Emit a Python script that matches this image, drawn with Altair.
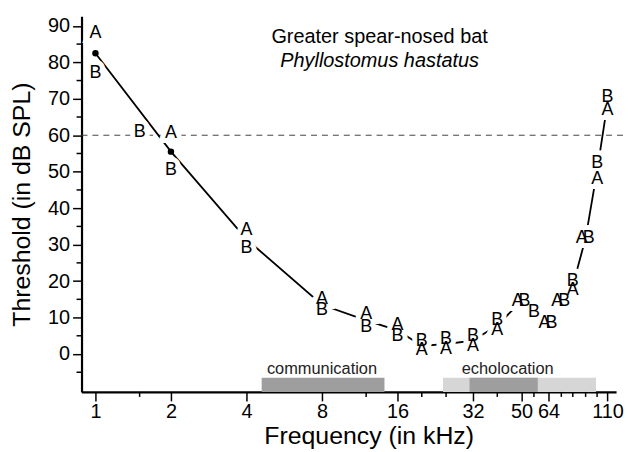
import altair as alt
import pandas as pd

# ---------------- data ----------------
freq = [1, 1.5, 2, 4, 8, 12, 16, 20, 25, 32, 40, 50, 56, 64, 72, 80, 90, 100, 110]
thr_a = [88, None, 60.5, 34, 15, 11, 8, 1, 1.5, 2.3, 6.5, 14.5, None, 8.6, 14.5, 17.5, 31.8, 48, 67]
thr_b = [77, 61, 50.5, 29, 12, 7.5, 5, 3.5, 4, 5, 9.3, 14.5, 11.5, 8.6, 14.5, 20, 31.8, 52.5, 70.5]

major_x = [1, 2, 4, 8, 16, 32, 50, 64, 110]
minor_x = [1.5, 12, 20, 25, 40, 56, 72, 80, 90, 100]
major_y = [0, 10, 20, 30, 40, 50, 60, 70, 80, 90]
minor_y = [-5, 5, 15, 25, 35, 45, 55, 65, 75, 85]

light_lo, light_hi = [24.3], [99]
dark_lo, dark_hi = [4.6, 31], [14.2, 58]
band_label = ["communication", "echolocation"]
band_label_f = [8, 44]

criterion = 60
title1 = "Greater spear-nosed bat"
title2 = "Phyllostomus hastatus"

# ---------------- layout ----------------
W, H = 538, 378
FONT = "Liberation Sans"
Y_LO, Y_HI = -10.4, 92.6
BAND_TOP = -6.5
xs = alt.Scale(type="log", domain=[0.88, 119], nice=False)
ys = alt.Scale(domain=[Y_LO, Y_HI], nice=False, zero=False)

xaxis = alt.Axis(
    values=major_x, format="d", title="Frequency (in kHz)", grid=False,
    labelFontSize=20, titleFontSize=25, titleFontWeight="normal",
    tickSize=9, tickWidth=1.5, tickColor="black", domainColor="black",
    domainWidth=2.2, labelColor="black", titleColor="black",
    labelPadding=1, titlePadding=2, titleX=289, titleAnchor="middle",
    labelFont=FONT, titleFont=FONT, labelFlush=False)
yaxis = alt.Axis(
    values=major_y, title="Threshold (in dB SPL)", grid=False,
    labelFontSize=20, titleFontSize=25, titleFontWeight="normal",
    tickSize=9, tickWidth=1.5, tickColor="black", domainColor="black",
    domainWidth=2.2, labelColor="black", titleColor="black",
    labelPadding=3, titlePadding=13, labelFont=FONT, titleFont=FONT)


def X(field):
    return alt.X(field, scale=xs, axis=xaxis)


def Y(field):
    return alt.Y(field, scale=ys, axis=yaxis)


rows = []
means = []
for f, a, b in zip(freq, thr_a, thr_b):
    both = a is not None and b is not None
    overlap = both and abs(a - b) < 1.0
    if a is not None:
        rows.append({"f": f, "v": a, "who": "A", "dx": -4 if overlap else 0})
    if b is not None:
        rows.append({"f": f, "v": b, "who": "B", "dx": 3 if overlap else 0})
    if both:
        means.append({"f": f, "v": (a + b) / 2})
letters = pd.DataFrame(rows)
mean_df = pd.DataFrame(means)

line = alt.Chart(mean_df).mark_line(color="black", strokeWidth=1.8).encode(
    x=X("f:Q"), y=Y("v:Q"))


def band(lo, hi, color):
    df = pd.DataFrame({"f": lo, "hi": hi, "v": [BAND_TOP] * len(lo), "v2": [Y_LO] * len(lo)})
    return alt.Chart(df).mark_rect(color=color).encode(
        x=X("f:Q"), x2="hi:Q", y=Y("v:Q"), y2="v2:Q")

bands_light = band(light_lo, light_hi, "#d6d6d6")
bands_dark = band(dark_lo, dark_hi, "#9e9e9e")

band_txt = alt.Chart(pd.DataFrame({"f": band_label_f, "t": band_label, "v": [-4, -4]})).mark_text(
    font=FONT, fontSize=16.5, color="#222", baseline="middle").encode(
    x=X("f:Q"), y=Y("v:Q"), text="t:N")

dash = alt.Chart(pd.DataFrame({"v": [criterion]})).mark_rule(
    color="#444", strokeDash=[6, 5], strokeWidth=1).encode(
    y=Y("v:Q"), x=alt.value(0), x2=alt.value(W + 8))

minor_xr = alt.Chart(pd.DataFrame({"f": minor_x})).mark_rule(color="black", strokeWidth=1.5).encode(
    x=X("f:Q"), y=alt.value(H), y2=alt.value(H + 5))
minor_yr = alt.Chart(pd.DataFrame({"v": minor_y})).mark_rule(color="black", strokeWidth=1.5).encode(
    y=Y("v:Q"), x=alt.value(0), x2=alt.value(-5))


def text_layers(**kw):
    out = []
    for d in sorted(letters["dx"].unique()):
        sub = letters[letters["dx"] == d][["f", "v", "who"]]
        out.append(alt.Chart(sub).mark_text(
            font=FONT, fontSize=18, baseline="middle", dx=int(d), **kw).encode(
            x=X("f:Q"), y=Y("v:Q"), text="who:N"))
    return out

dots = alt.Chart(mean_df).mark_point(filled=True, color="black", size=42, opacity=1).encode(
    x=X("f:Q"), y=Y("v:Q"))
halo = text_layers(color="white", stroke="white", strokeWidth=10)
labels = text_layers(color="black")

t1 = alt.Chart(pd.DataFrame({"t": [title1]})).mark_text(
    font=FONT, fontSize=20, color="black", baseline="middle").encode(
    text="t:N", x=alt.value(300), y=alt.value(21))
t2 = alt.Chart(pd.DataFrame({"t": [title2]})).mark_text(
    font=FONT, fontSize=20, fontStyle="italic", color="black", baseline="middle").encode(
    text="t:N", x=alt.value(300), y=alt.value(45))

chart = alt.layer(
    bands_light, bands_dark, band_txt, dash, line, dots, *halo, *labels, minor_xr, minor_yr, t1, t2
).properties(
    width=W, height=H,
    autosize=alt.AutoSizeParams(type="none"),
    padding={"left": 74, "top": 7, "right": 8, "bottom": 56},
).configure_view(stroke=None)

chart.save("out.html", embed_options={"renderer": "svg", "actions": False})
